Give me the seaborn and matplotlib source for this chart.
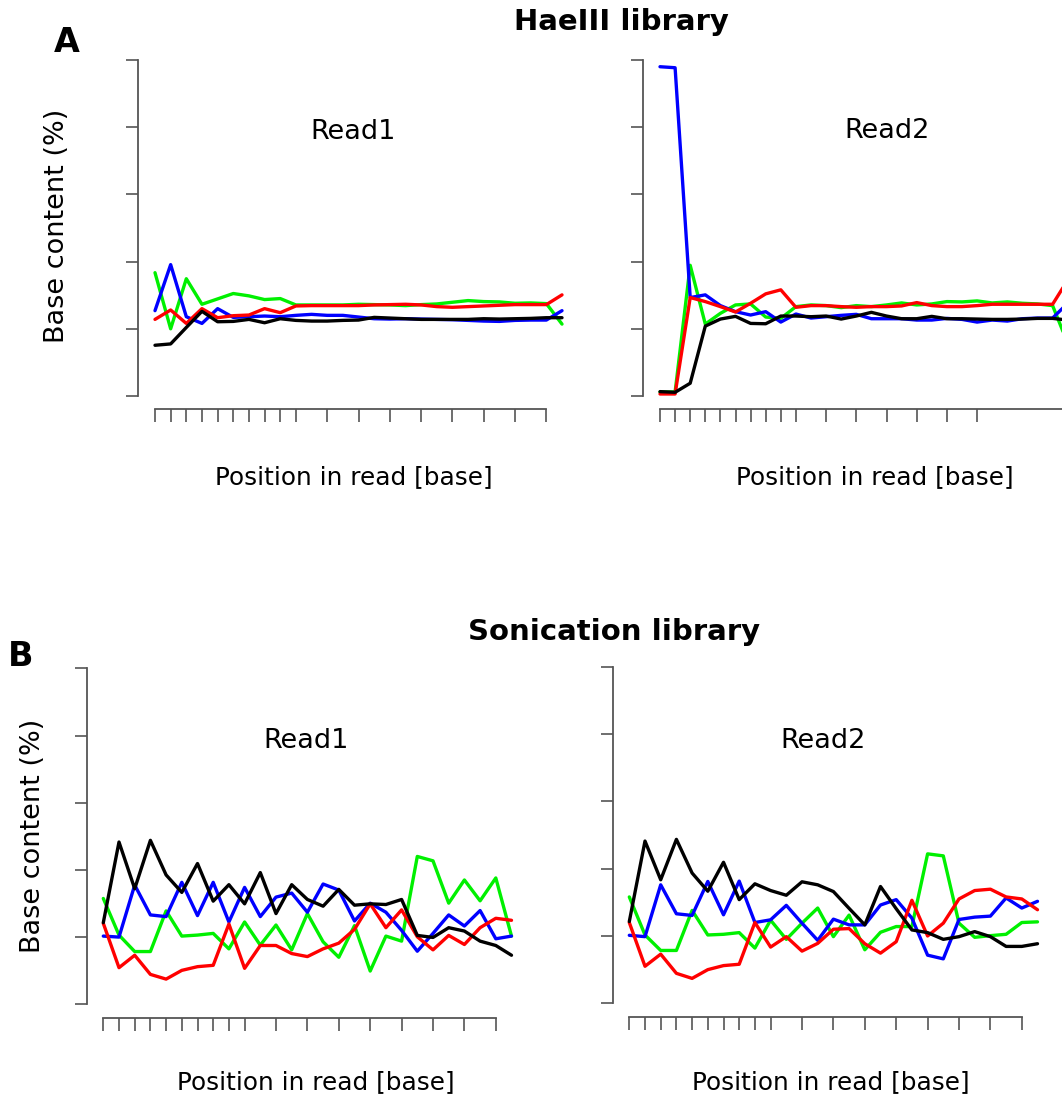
import numpy as np
import pandas as pd
import matplotlib
matplotlib.use("Agg")
import matplotlib.pyplot as plt
import seaborn as sns

# ---------------- data (percent, per position bin) ----------------
bases = ["A", "C", "T", "G"]          # drawn order
base_colors = {"A": "#00f000", "C": "#0000ff", "T": "#ff0000", "G": "#000000"}

# HaeIII library, Read1 (27 bins)
hae_r1_A = [36.7, 20.0, 34.9, 27.3, 28.9, 30.5, 29.8, 28.7, 29.0, 27.1, 27.1, 27.1, 27.1, 27.3,
            27.2, 27.1, 26.9, 27.2, 27.4, 27.9, 28.4, 28.1, 28.0, 27.6, 27.7, 27.5, 21.4]
hae_r1_C = [25.4, 39.1, 23.6, 21.6, 26.0, 23.4, 23.6, 23.8, 23.6, 24.0, 24.3, 24.0, 24.0, 23.5,
            23.0, 22.9, 23.0, 22.9, 22.8, 22.7, 22.5, 22.3, 22.2, 22.5, 22.6, 22.6, 25.4]
hae_r1_T = [22.8, 25.6, 21.6, 26.0, 23.3, 23.9, 24.1, 26.0, 24.8, 26.8, 26.9, 26.9, 26.9, 26.9,
            27.1, 27.2, 27.3, 27.1, 26.6, 26.4, 26.6, 26.8, 27.0, 27.2, 27.2, 27.2, 30.1]
hae_r1_G = [15.1, 15.5, 20.4, 25.2, 22.1, 22.2, 22.8, 21.8, 23.0, 22.5, 22.3, 22.3, 22.5, 22.6,
            23.4, 23.2, 23.0, 22.8, 22.8, 22.8, 22.8, 23.0, 22.9, 23.0, 23.1, 23.3, 23.3]

# HaeIII library, Read2 (28 bins, last one cut off by the figure edge)
hae_r2_A = [1.2, 1.2, 38.9, 21.4, 24.6, 27.1, 27.4, 23.5, 23.1, 26.6, 27.1, 26.9, 26.3, 26.9,
            26.6, 27.1, 27.7, 27.1, 27.4, 28.1, 28.0, 28.3, 27.7, 28.0, 27.6, 27.4, 26.9, 15.7]
hae_r2_C = [98.0, 97.7, 29.3, 30.1, 26.9, 25.1, 24.1, 25.1, 22.0, 24.4, 23.2, 23.6, 24.0, 24.3,
            23.0, 23.0, 23.0, 22.6, 22.6, 23.1, 22.8, 22.0, 22.6, 22.3, 23.0, 23.2, 23.2, 27.6]
hae_r2_T = [0.6, 0.6, 29.3, 28.1, 26.6, 25.0, 27.6, 30.4, 31.6, 26.4, 26.9, 26.9, 26.6, 26.4,
            26.6, 26.6, 26.8, 27.8, 26.9, 26.6, 26.6, 26.9, 27.3, 27.3, 27.3, 27.3, 27.3, 34.5]
hae_r2_G = [1.3, 1.1, 3.8, 20.8, 22.9, 23.7, 21.6, 21.5, 23.8, 23.8, 23.6, 23.8, 22.9, 23.8,
            24.9, 23.8, 23.0, 23.0, 23.7, 23.0, 23.0, 22.9, 22.8, 22.8, 22.9, 23.1, 23.1, 22.6]

# Sonication library, Read1 (27 bins)
son_r1_A = [31.5, 20.6, 15.7, 15.7, 27.8, 20.3, 20.6, 21.1, 16.5, 24.5, 17.6, 23.6, 16.2, 27.0,
            18.6, 14.0, 23.4, 9.9, 20.3, 18.8, 44.0, 42.7, 30.1, 37.0, 30.8, 37.6, 20.3]
son_r1_C = [20.3, 20.0, 35.5, 26.6, 26.1, 36.3, 26.4, 36.3, 24.5, 34.8, 26.1, 31.9, 33.1, 27.4,
            35.8, 34.0, 24.8, 30.1, 27.4, 22.0, 15.8, 21.1, 26.6, 23.3, 27.9, 19.5, 20.3]
son_r1_T = [24.1, 10.9, 14.6, 8.9, 7.5, 10.1, 11.2, 11.6, 23.9, 10.7, 17.5, 17.5, 15.1, 14.2,
            16.5, 18.2, 22.3, 29.9, 22.8, 28.1, 20.1, 16.2, 20.5, 17.8, 22.8, 25.6, 25.0]
son_r1_G = [24.3, 48.3, 34.4, 48.8, 38.5, 33.3, 41.9, 30.7, 35.6, 29.9, 39.2, 27.0, 35.6, 31.2,
            29.2, 34.2, 29.5, 29.9, 29.7, 31.2, 20.5, 19.9, 22.8, 21.8, 18.8, 17.5, 14.6]

# Sonication library, Read2 (27 bins)
son_r2_A = [31.6, 20.3, 15.7, 15.7, 27.6, 20.3, 20.5, 21.0, 16.4, 24.7, 19.0, 23.8, 28.3, 19.8,
            26.2, 15.9, 21.1, 22.8, 22.8, 44.4, 43.8, 23.8, 19.6, 20.1, 20.5, 24.0, 24.2]
son_r2_C = [20.2, 19.8, 35.2, 26.6, 26.1, 36.2, 26.3, 36.3, 24.0, 24.8, 29.1, 23.8, 18.7, 25.0,
            23.3, 23.3, 29.2, 30.8, 25.3, 14.3, 13.2, 24.9, 25.6, 25.9, 31.3, 28.3, 30.3]
son_r2_T = [24.0, 11.0, 14.6, 8.9, 7.4, 10.0, 11.2, 11.6, 24.0, 16.7, 19.8, 15.5, 17.8, 22.0,
            22.2, 17.7, 14.9, 18.3, 30.6, 20.0, 23.8, 31.0, 33.5, 33.9, 31.6, 31.0, 27.8]
son_r2_G = [24.3, 48.2, 36.7, 48.7, 38.7, 33.3, 41.9, 30.8, 35.5, 33.5, 32.1, 36.1, 35.2, 33.2,
            28.2, 23.3, 34.7, 28.1, 21.8, 21.0, 19.0, 19.8, 21.3, 19.8, 16.9, 16.9, 17.7]

# x tick positions (bin index): single positions 1-9, then every other bin
ticks_full = list(range(0, 10)) + list(range(11, 26, 2))
ticks_hae_r2 = list(range(0, 10)) + list(range(11, 22, 2))
y_ticks = [0, 20, 40, 60, 80, 100]

panel_titles = ["Read1", "Read2", "Read1", "Read2"]
xlabel_text = "Position in read [base]"
ylabel_text = "Base content (%)"

# ---------------- figure ----------------
sns.set_style("white")
plt.rcParams["font.family"] = ["DejaVu Sans"]
plt.rcParams["text.color"] = "black"

W, H = 1062, 1097
fig = plt.figure(figsize=(W / 100, H / 100), dpi=100)


def fx(px):
    return px / W


def fy(py):
    return 1 - py / H


def make_df(a, c, t, g):
    vals = {"A": a, "C": c, "T": t, "G": g}
    rows = []
    for b in bases:
        for i, v in enumerate(vals[b]):
            rows.append({"pos": i, "pct": v, "base": b})
    return pd.DataFrame(rows)


def panel(df, x0, dx, y0, y100, spine_x, spine_y, xr_px, xticks, xbound_hi, title, title_xy):
    yt_px = y100 - 8
    ax = fig.add_axes([fx(spine_x), fy(spine_y), fx(xr_px) - fx(spine_x), fy(yt_px) - fy(spine_y)])
    ppy = (y0 - y100) / 100.0
    ax.set_xlim((spine_x - x0) / dx, (xr_px - x0) / dx)
    ax.set_ylim((y0 - spine_y) / ppy, (y0 - yt_px) / ppy)
    sns.lineplot(data=df, x="pos", y="pct", hue="base", hue_order=bases,
                 palette=base_colors, legend=False, ax=ax, linewidth=2.4,
                 estimator=None, sort=False)
    for ln in ax.lines:
        ln.set_clip_on(False)
    for s in ["top", "right"]:
        ax.spines[s].set_visible(False)
    for s in ["left", "bottom"]:
        ax.spines[s].set_color("#555555")
        ax.spines[s].set_linewidth(1.3)
    ax.spines["left"].set_bounds(0, 100)
    ax.spines["bottom"].set_bounds(0, xbound_hi)
    ax.set_xticks(xticks)
    ax.set_yticks(y_ticks)
    ax.set_xticklabels([])
    ax.set_yticklabels([])
    ax.tick_params(axis="both", direction="out", length=9, width=1.2, color="#555555",
                   bottom=True, left=True)
    ax.set_xlabel("")
    ax.set_ylabel("")
    ax.patch.set_alpha(0)
    fig.text(fx(title_xy[0]), fy(title_xy[1]), title, ha="center", va="baseline",
             fontsize=19.5, color="black")
    return ax


df_a1 = make_df(hae_r1_A, hae_r1_C, hae_r1_T, hae_r1_G)
df_a2 = make_df(hae_r2_A, hae_r2_C, hae_r2_T, hae_r2_G)
df_b1 = make_df(son_r1_A, son_r1_C, son_r1_T, son_r1_G)
df_b2 = make_df(son_r2_A, son_r2_C, son_r2_T, son_r2_G)

panel(df_a1, 155, 15.654, 396, 60, 138.3, 409.3, 580, ticks_full, 25, panel_titles[0], (353, 139))
panel(df_a2, 660, 15.1, 396, 60, 643.3, 408.7, 1120, ticks_hae_r2, 40, panel_titles[1], (887, 138))
panel(df_b1, 103.3, 15.7, 1004.3, 668.3, 87.3, 1018, 530, ticks_full, 25, panel_titles[2], (306, 748))
panel(df_b2, 629.3, 15.7, 1003.3, 666.7, 613.3, 1017.3, 1056, ticks_full, 25, panel_titles[3], (823, 748))

# axis labels
for (x, y) in [(354, 477), (875, 477), (316, 1082), (831, 1082)]:
    fig.text(fx(x), fy(y), xlabel_text, ha="center", va="center", fontsize=17.8, color="black")
for (x, y) in [(57, 226), (33, 836)]:
    fig.text(fx(x), fy(y), ylabel_text, ha="center", va="center", rotation=90,
             fontsize=19.5, color="black")

# library titles and panel letters
fig.text(fx(621), fy(22), "HaeIII library", ha="center", va="center", fontsize=21,
         fontweight="bold", color="black")
fig.text(fx(614), fy(632), "Sonication library", ha="center", va="center", fontsize=21,
         fontweight="bold", color="black")
fig.text(fx(67), fy(43), "A", ha="center", va="center", fontsize=24, fontweight="bold", color="black")
fig.text(fx(21), fy(656), "B", ha="center", va="center", fontsize=24, fontweight="bold", color="black")

fig.savefig("out.png", dpi=100, facecolor="white")
